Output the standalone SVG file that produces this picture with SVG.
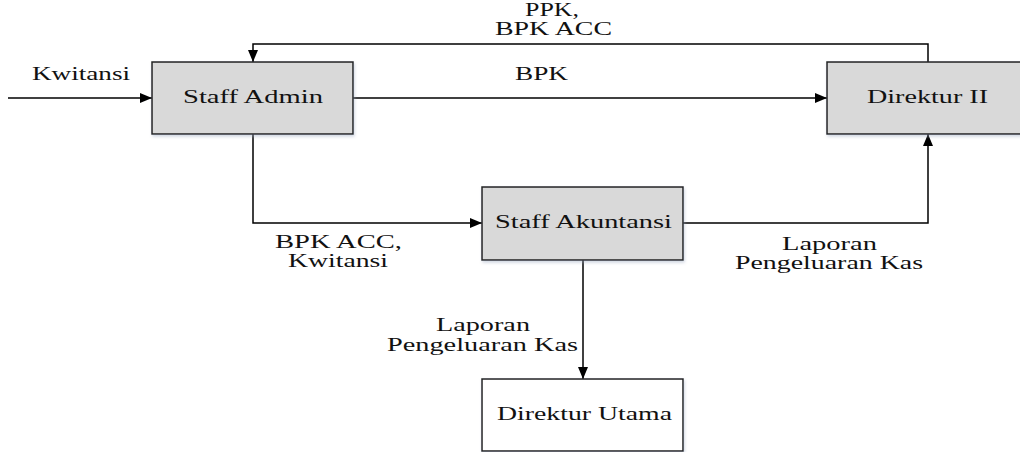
<svg xmlns="http://www.w3.org/2000/svg" width="1020" height="452" viewBox="0 0 1020 452">
  <defs>
    <marker id="arrow" viewBox="0 0 12 10" refX="12" refY="5" markerWidth="12" markerHeight="10" markerUnits="userSpaceOnUse" orient="auto">
      <path d="M0,0 L12,5 L0,10 z" fill="#000"/>
    </marker>
    <filter id="shadow" x="-5%" y="-5%" width="115%" height="120%">
      <feDropShadow dx="1" dy="2" stdDeviation="1.5" flood-color="#9aa8c0" flood-opacity="0.45"/>
    </filter>
  </defs>
  <style>
    .box { fill: #d9d9d9; stroke: #222; stroke-width: 1.5; filter: url(#shadow); }
    .box-white { fill: #fff; stroke: #222; stroke-width: 1.5; filter: url(#shadow); }
    .link { fill: none; stroke: #000; stroke-width: 1.5; marker-end: url(#arrow); }
  </style>
  <rect width="1020" height="452" fill="#fff"/>

  <!-- connectors -->
  <g id="connectors">
    <path class="link" d="M8,98 H152"/>
    <path class="link" d="M928,62 V44 H253 V62"/>
    <path class="link" d="M353,98 H827"/>
    <path class="link" d="M253,134 V223 H482"/>
    <path class="link" d="M683,223 H928 V134"/>
    <path class="link" d="M583,260 V379"/>
  </g>

  <!-- connector labels -->
  <g id="labels" font-family="Times New Roman, Liberation Serif, Times, serif" font-size="18" fill="#111">
    <text x="32" y="80" textLength="98" lengthAdjust="spacingAndGlyphs">Kwitansi</text>
    <text x="525" y="16" textLength="54" lengthAdjust="spacingAndGlyphs">PPK,</text>
    <text x="495" y="35" textLength="117" lengthAdjust="spacingAndGlyphs">BPK ACC</text>
    <text x="515" y="80" textLength="53" lengthAdjust="spacingAndGlyphs">BPK</text>
    <text x="275" y="248" textLength="127" lengthAdjust="spacingAndGlyphs">BPK ACC,</text>
    <text x="288" y="267" textLength="100" lengthAdjust="spacingAndGlyphs">Kwitansi</text>
    <text x="436" y="331" textLength="94" lengthAdjust="spacingAndGlyphs">Laporan</text>
    <text x="387" y="351" textLength="191" lengthAdjust="spacingAndGlyphs">Pengeluaran Kas</text>
    <text x="782" y="250" textLength="95" lengthAdjust="spacingAndGlyphs">Laporan</text>
    <text x="735" y="269" textLength="188" lengthAdjust="spacingAndGlyphs">Pengeluaran Kas</text>
  </g>

  <!-- nodes -->
  <g font-family="Times New Roman, Liberation Serif, Times, serif" font-size="18" fill="#111">
    <g id="staff-admin">
      <rect class="box" x="152" y="62" width="201" height="72"/>
      <text x="183" y="103" textLength="140" lengthAdjust="spacingAndGlyphs">Staff Admin</text>
    </g>
    <g id="direktur-ii">
      <rect class="box" x="827" y="62" width="201" height="72"/>
      <text x="867" y="103" textLength="121" lengthAdjust="spacingAndGlyphs">Direktur II</text>
    </g>
    <g id="staff-akuntansi">
      <rect class="box" x="482" y="187" width="201" height="73"/>
      <text x="495" y="228" textLength="177" lengthAdjust="spacingAndGlyphs">Staff Akuntansi</text>
    </g>
    <g id="direktur-utama">
      <rect class="box-white" x="482" y="379" width="201" height="72"/>
      <text x="497" y="420" textLength="175" lengthAdjust="spacingAndGlyphs">Direktur Utama</text>
    </g>
  </g>
</svg>
